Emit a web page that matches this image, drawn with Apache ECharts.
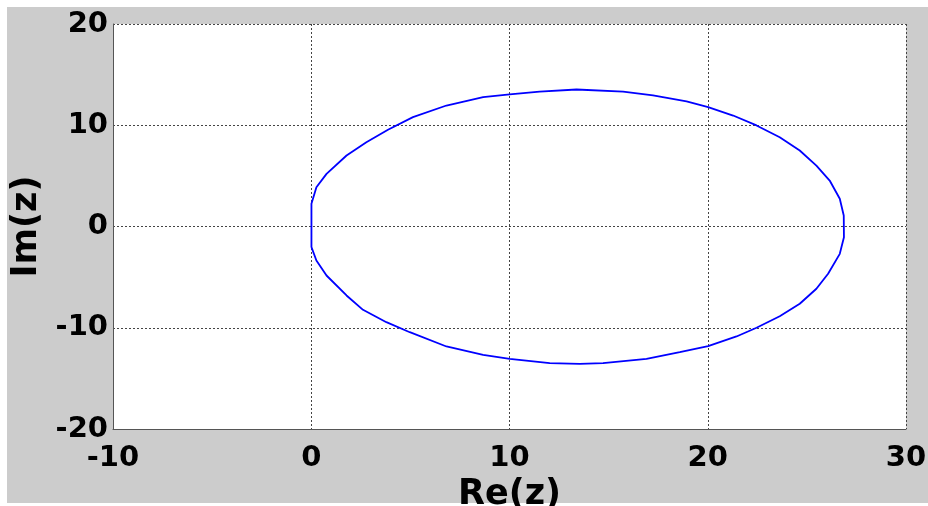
<!DOCTYPE html>
<html>
<head>
<meta charset="utf-8">
<script src="https://cdn.jsdelivr.net/npm/echarts@6/dist/echarts.min.js"></script>
<style>
html,body{margin:0;padding:0;background:#ffffff;}
#chart{width:928px;height:506px;}
</style>
</head>
<body>
<div id="chart"></div>
<script>
// Curve points: [Re(z), Im(z)]
const curveRe = [0.01, 0.01, 0.26, 0.77, 1.78, 2.78, 3.87, 5.13, 6.82, 8.67, 10.01, 11.52, 13.38, 15.73, 17.24, 18.93, 20.02, 21.28, 22.46, 23.63, 24.64, 25.48, 26.15, 26.66, 26.86, 26.87,
  26.86, 26.66, 26.07, 25.48, 24.64, 23.63, 22.46, 21.45, 20.02, 18.59, 16.91, 14.72, 13.54, 12.03, 10.01, 8.67, 6.82, 4.97, 3.79, 2.61, 1.78, 0.77, 0.26, 0.01];
const curveIm = [-2.04, 2.24, 3.88, 5.20, 7.01, 8.33, 9.55, 10.80, 11.95, 12.77, 13.04, 13.33, 13.53, 13.33, 12.94, 12.35, 11.78, 10.96, 9.98, 8.82, 7.51, 6.02, 4.54, 2.74, 1.09, -1.06,
  -1.06, -2.70, -4.67, -6.15, -7.63, -8.86, -10.00, -10.86, -11.82, -12.41, -13.07, -13.50, -13.56, -13.50, -13.07, -12.67, -11.85, -10.44, -9.45, -8.23, -6.81, -4.84, -3.36, -2.04];
const xTicks = [-10, 0, 10, 20, 30];
const yTicks = [-20, -10, 0, 10, 20];
const xTitle = 'Re(z)';
const yTitle = 'Im(z)';

const pts = curveRe.map((x, i) => [x, curveIm[i]]);
const font = '"DejaVu Sans", sans-serif';

const chart = echarts.init(document.getElementById('chart'), null, {renderer: 'canvas'});
const split = {show: true, lineStyle: {color: '#444', type: [2, 2], width: 1}};
chart.setOption({
  animation: false,
  backgroundColor: '#ffffff',
  graphic: [{
    type: 'rect', z: -10, silent: true,
    shape: {x: 7, y: 7, width: 921, height: 496},
    style: {fill: '#cccccc'}
  }],
  grid: {left: 113, right: 22, top: 24, bottom: 77, show: true, backgroundColor: '#ffffff', borderWidth: 0,
    containLabel: false, outerBoundsMode: 'none'},
  xAxis: {
    type: 'value', min: xTicks[0], max: xTicks[xTicks.length - 1], interval: 10,
    name: xTitle, nameLocation: 'middle', nameGap: 39,
    nameTextStyle: {fontFamily: font, fontWeight: 'bold', fontSize: 35, color: '#000'},
    axisLine: {show: true, onZero: false, lineStyle: {color: '#555', width: 1}},
    axisTick: {show: false},
    axisLabel: {fontFamily: font, fontWeight: 'bold', fontSize: 29, color: '#000', margin: 15, lineHeight: 29},
    splitLine: split
  },
  yAxis: {
    type: 'value', min: yTicks[0], max: yTicks[yTicks.length - 1], interval: 10,
    name: yTitle, nameLocation: 'middle', nameGap: 67,
    nameTextStyle: {fontFamily: font, fontWeight: 'bold', fontSize: 35, color: '#000'},
    axisLine: {show: true, onZero: false, lineStyle: {color: '#555', width: 1}},
    axisTick: {show: false},
    axisLabel: {fontFamily: font, fontWeight: 'bold', fontSize: 29, color: '#000', margin: 5},
    splitLine: split
  },
  series: [{
    type: 'line', data: pts, showSymbol: false, smooth: false,
    lineStyle: {color: '#0000ff', width: 1.8}, itemStyle: {color: '#0000ff'}
  }]
});
</script>
</body>
</html>
